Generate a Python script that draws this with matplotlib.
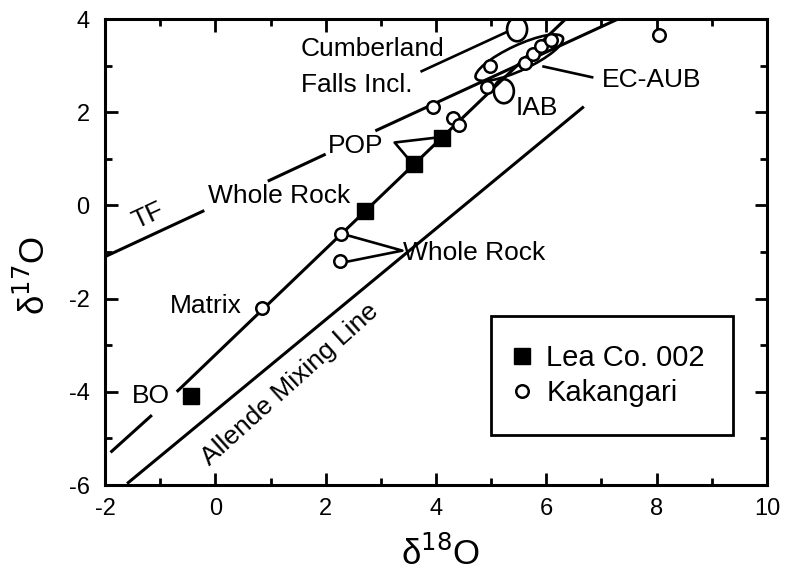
import matplotlib
matplotlib.use('Agg')
import matplotlib.pyplot as plt
from matplotlib.patches import Ellipse
from matplotlib.transforms import ScaledTranslation

plt.rcParams['font.family'] = ['Liberation Sans', 'DejaVu Sans']
plt.rcParams['axes.unicode_minus'] = False

# Lea Co. 002 (filled squares)
lea_x = [-0.45, 2.72, 3.6, 4.1]
lea_y = [-4.1, -0.12, 0.88, 1.45]

# Kakangari (small open circles)
kak_x = [0.85, 2.27, 2.26, 3.95, 4.3, 4.42, 4.92, 4.97, 5.62, 5.76, 5.9, 6.08, 8.05]
kak_y = [-2.2, -0.62, -1.2, 2.12, 1.87, 1.72, 2.55, 3.0, 3.05, 3.24, 3.42, 3.55, 3.65]

# big open circles: Cumberland Falls incl., IAB
big_x = [5.47, 5.23]
big_y = [3.78, 2.45]
# EC-AUB field (ellipse centre)
ecaub_x, ecaub_y = 5.51, 3.17

# reference lines (segment ends, broken where labels sit)
tf_x = [[-2.0, -0.2], [0.95, 2.0], [2.9, 7.3]]
tf_y = [[-1.1, -0.11], [0.52, 1.1], [1.6, 4.0]]
kline_x = [[-1.9, -1.15], [-0.7, 6.35]]
kline_y = [[-5.3, -4.5], [-4.0, 4.0]]
allende_x = [-1.6, 6.68]
allende_y = [-5.97, 2.12]

# leader lines
leaders = [
    ([3.74, 5.28], [2.88, 3.72]),            # Cumberland
    ([6.83, 5.95], [2.75, 2.98]),            # EC-AUB
    ([3.97, 3.25, 3.5], [1.45, 1.35, 1.0]),  # POP
    ([2.42, 3.39, 2.42], [-0.65, -0.97, -1.2]),  # Whole Rock
]

# labels: text, x, y, ha, rotation
labels = [
    ("Cumberland\nFalls Incl.", 1.55, 2.97, 'left', 0),
    ("EC-AUB", 7.0, 2.7, 'left', 0),
    ("IAB", 5.44, 2.08, 'left', 0),
    ("POP", 2.54, 1.27, 'center', 0),
    ("Whole Rock", -0.14, 0.2, 'left', 0),
    ("Whole Rock", 3.41, -1.03, 'left', 0),
    ("TF", -1.23, -0.23, 'center', 25),
    ("Matrix", 0.48, -2.15, 'right', 0),
    ("BO", -0.82, -4.1, 'right', 0),
    ("Allende Mixing Line", 1.35, -3.85, 'center', 42),
]

fig = plt.figure(figsize=(7.86, 5.71), dpi=100)
ax = fig.add_axes([0.1336, 0.1506, 0.8422, 0.8161])
ax.set_xlim(-2, 10)
ax.set_ylim(-6, 4)

lw = 2.2
for xs, ys in zip(tf_x, tf_y):
    ax.plot(xs, ys, color='black', lw=lw, solid_capstyle='butt')
for xs, ys in zip(kline_x, kline_y):
    ax.plot(xs, ys, color='black', lw=lw, solid_capstyle='butt')
ax.plot(allende_x, allende_y, color='black', lw=lw, solid_capstyle='butt')
for xs, ys in leaders:
    ax.plot(xs, ys, color='black', lw=1.9)

# fixed-size ellipses placed at data positions
for cx, cy in zip(big_x, big_y):
    tr = fig.dpi_scale_trans + ScaledTranslation(cx, cy, ax.transData)
    ax.add_patch(Ellipse((0, 0), 0.2, 0.24, transform=tr, fill=False,
                         edgecolor='black', lw=1.9, zorder=4))
tr = fig.dpi_scale_trans + ScaledTranslation(ecaub_x, ecaub_y, ax.transData)
ax.add_patch(Ellipse((0, 0), 0.96, 0.25, angle=25, transform=tr, fill=False,
                     edgecolor='black', lw=1.9, zorder=4))

ax.plot(lea_x, lea_y, 's', color='black', ms=12, ls='none',
        label='Lea Co. 002', zorder=5)
ax.plot(kak_x, kak_y, 'o', mfc='white', mec='black', mew=1.8, ms=9,
        ls='none', label='Kakangari', zorder=5)

for txt, x, y, ha, rot in labels:
    ax.text(x, y, txt, fontsize=19, ha=ha, va='center', rotation=rot,
            rotation_mode='anchor', linespacing=1.6, zorder=6)

leg = ax.legend(loc='upper left', bbox_to_anchor=(0.583, 0.362),
                fontsize=21, frameon=True, fancybox=False,
                borderpad=0.95, handlelength=0.2, handletextpad=0.75,
                labelspacing=0.25, framealpha=1, borderaxespad=0)
leg.get_frame().set_edgecolor('black')
leg.get_frame().set_linewidth(2)

ax.set_xticks(range(-2, 11, 2))
ax.set_xticks(range(-1, 10, 2), minor=True)
ax.set_yticks(range(-6, 5, 2))
ax.set_yticks(range(-5, 4, 2), minor=True)
ax.tick_params(which='both', direction='in', top=True, right=True, width=2,
               labelsize=17)
ax.tick_params(which='major', length=9)
ax.tick_params(which='minor', length=5)
ax.tick_params(axis='x', pad=9)
ax.tick_params(axis='y', pad=11)
for s in ax.spines.values():
    s.set_linewidth(2.2)

ax.set_xlabel('δ$^{18}$O', fontsize=25)
ax.set_ylabel('δ$^{17}$O', fontsize=25)
ax.xaxis.set_label_coords(0.507, -0.11)
ax.yaxis.set_label_coords(-0.08, 0.45)

fig.savefig('out.png', dpi=100)
